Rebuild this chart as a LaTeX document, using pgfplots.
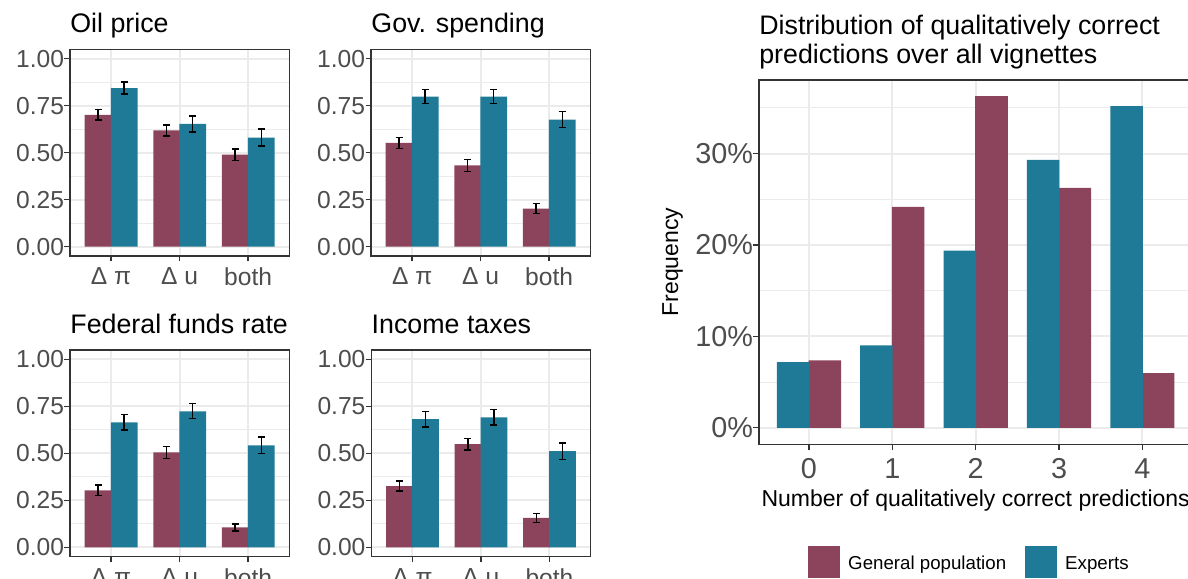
\documentclass[border=0pt]{standalone}
\usepackage{fontspec}
\setmainfont{Liberation Sans}
\usepackage{pgfplots}
\pgfplotsset{compat=1.18}
\definecolor{gp}{HTML}{8C445C}
\definecolor{ex}{HTML}{1F7A97}
\definecolor{grey20}{HTML}{333333}
\definecolor{grey30}{HTML}{4D4D4D}
\definecolor{grey92}{HTML}{EBEBEB}
\pgfplotsset{
 every axis title shift=0pt,
 base/.style={
  scale only axis,
  axis line style={grey20, line width=0.7pt},
  tick align=outside, tick pos=left,
  major tick length=2.75pt, minor tick length=0pt,
  every tick/.style={grey20, line width=0.7pt},
  xmajorgrids, ymajorgrids, yminorgrids,
  major grid style={grey92, line width=1pt},
  minor grid style={grey92, line width=0.5pt},
  ybar, bar width=0.39, bar shift=0pt,
  error bars/y dir=both, error bars/y explicit,
  error bars/error mark=-,
  error bars/error bar style={draw=black, line width=0.7pt},
  error bars/error mark options={draw=black, line width=0.7pt, mark size=1.75pt, rotate=90},
  yticklabel style={inner sep=0pt},
  xticklabel style={inner sep=0pt},
 },
 panel/.style={base, width=109.65pt, height=103.35pt,
  xmin=0.4, xmax=3.6, ymin=-0.05, ymax=1.05,
  xtick={1,2,3}, xticklabels={Δ π,Δ u,both},
  ytick={0,0.25,0.5,0.75,1}, yticklabels={0.00,0.25,0.50,0.75,1.00},
  minor ytick={0.125,0.375,0.625,0.875},
  ticklabel style={font=\fontsize{12.3}{14}\selectfont, text=grey30},
  xticklabel style={yshift=-3pt},
  title style={at={(0,1)}, anchor=base west, yshift=8.15pt, inner sep=0pt, font=\fontsize{13.4}{16}\selectfont},
 },
}
\begin{document}
\begin{tikzpicture}
% Oil price
\begin{axis}[panel, at={(35pt,161pt)}, anchor=south west, title={Oil price}]
\addplot[fill=gp, draw=none] coordinates {(0.81,0.701) +- (0,0.028) (1.81,0.618) +- (0,0.029) (2.81,0.489) +- (0,0.031)};
\addplot[fill=ex, draw=none] coordinates {(1.19,0.844) +- (0,0.032) (2.19,0.653) +- (0,0.043) (3.19,0.580) +- (0,0.045)};
\end{axis}
% Gov. spending
\begin{axis}[panel, at={(185.5pt,161pt)}, anchor=south west, title={Gov. spending}]
\addplot[fill=gp, draw=none] coordinates {(0.81,0.552) +- (0,0.030) (1.81,0.432) +- (0,0.031) (2.81,0.202) +- (0,0.026)};
\addplot[fill=ex, draw=none] coordinates {(1.19,0.798) +- (0,0.037) (2.19,0.798) +- (0,0.037) (3.19,0.676) +- (0,0.043)};
\end{axis}
% Federal funds rate
\begin{axis}[panel, at={(35pt,10.65pt)}, anchor=south west, title={Federal funds rate}]
\addplot[fill=gp, draw=none] coordinates {(0.81,0.303) +- (0,0.028) (1.81,0.505) +- (0,0.031) (2.81,0.106) +- (0,0.019)};
\addplot[fill=ex, draw=none] coordinates {(1.19,0.665) +- (0,0.041) (2.19,0.724) +- (0,0.040) (3.19,0.543) +- (0,0.043)};
\end{axis}
% Income taxes
\begin{axis}[panel, at={(185.65pt,10.65pt)}, anchor=south west, title={Income taxes}]
\addplot[fill=gp, draw=none] coordinates {(0.81,0.326) +- (0,0.027) (1.81,0.549) +- (0,0.031) (2.81,0.156) +- (0,0.023)};
\addplot[fill=ex, draw=none] coordinates {(1.19,0.682) +- (0,0.042) (2.19,0.692) +- (0,0.041) (3.19,0.512) +- (0,0.044)};
\end{axis}
% Distribution
\begin{axis}[base, at={(379.45pt,66.85pt)}, anchor=south west,
  width=216.75pt, height=182.15pt,
  xmin=-0.6, xmax=4.6, ymin=-1.81, ymax=38.06,
  xtick={0,1,2,3,4}, xticklabels={0,1,2,3,4},
  ytick={0,10,20,30}, yticklabels={0\%,10\%,20\%,30\%},
  minor ytick={5,15,25,35},
  ticklabel style={font=\fontsize{14.4}{16}\selectfont, text=grey30},
  xticklabel style={yshift=-4pt},
  title={Distribution of qualitatively correct\\predictions over all vignettes},
  title style={at={(0,1)}, anchor=south west, align=left, yshift=5.15pt, inner sep=0pt, font=\fontsize{13.4}{14.5}\selectfont},
  xlabel={Number of qualitatively correct predictions},
  ylabel={Frequency},
  every axis x label/.style={at={(rel axis cs:0.5,-0.1694)}, anchor=base, font=\fontsize{11.5}{13}\selectfont},
  every axis y label/.style={at={(rel axis cs:-0.1866,0.5)}, rotate=90, anchor=base, font=\fontsize{11.5}{13}\selectfont},
  legend columns=2,
  legend style={draw=none, fill=none, at={(0.1128,-0.279)}, anchor=north west, inner sep=0pt, font=\fontsize{9.35}{11}\selectfont, /tikz/every even column/.append style={column sep=7.5pt}},
  legend image code/.code={\fill[#1] (0pt,-7.1pt) rectangle (16pt,8.9pt); \path (18pt,0pt);},
]
\addplot[fill=gp, draw=none] coordinates {(0.19,7.38) (1.19,24.18) (2.19,36.29) (3.19,26.26) (4.19,5.97)};
\addlegendentry{General population}
\addplot[fill=ex, draw=none] coordinates {(-0.19,7.17) (0.81,9.02) (1.81,19.38) (2.81,29.31) (3.81,35.2)};
\addlegendentry{Experts}
\end{axis}
\pgfresetboundingbox
\path (0,0) rectangle (594pt,289pt);
\end{tikzpicture}
\end{document}
